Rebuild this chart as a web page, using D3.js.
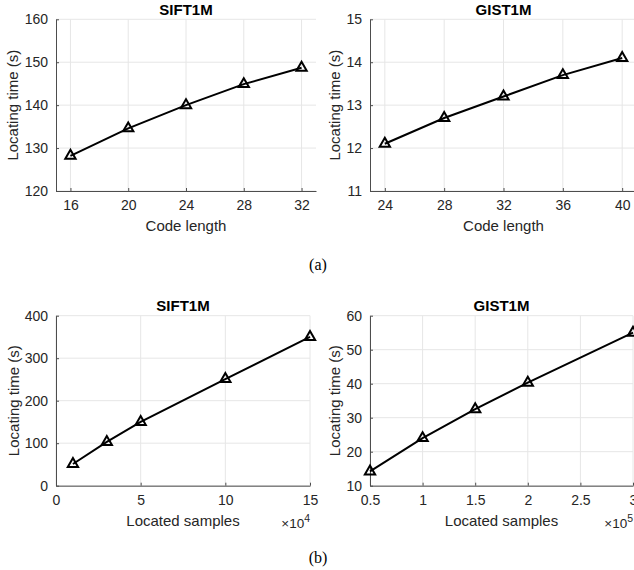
<!DOCTYPE html>
<html><head><meta charset="utf-8">
<script src="https://cdn.jsdelivr.net/npm/d3@7"></script>
<style>
body{margin:0;background:#fff;}
svg{display:block;}
text{font-family:"Liberation Sans",Arial,Helvetica,sans-serif;}
</style></head>
<body>
<svg id="c" width="634" height="570"></svg>
<script>
// ---- Data ----
const siftCodeLen = [16, 20, 24, 28, 32];
const siftCodeTime = [128.2, 134.6, 140.0, 144.9, 148.7];
const gistCodeLen = [24, 28, 32, 36, 40];
const gistCodeTime = [12.1, 12.7, 13.2, 13.7, 14.1];
const siftSamples = [1, 3, 5, 10, 15];      // x 10^4
const siftSampleTime = [51, 103, 150, 251, 350];
const gistSamples = [0.5, 1, 1.5, 2, 3];    // x 10^5
const gistSampleTime = [14.2, 24.0, 32.5, 40.3, 55.0];

const titles = ["SIFT1M", "GIST1M"];
const xTicksA1 = [16, 20, 24, 28, 32];
const xTicksA2 = [24, 28, 32, 36, 40];
const yTicksA1 = [120, 130, 140, 150, 160];
const yTicksA2 = [11, 12, 13, 14, 15];
const xTicksB1 = [0, 5, 10, 15];
const xTicksB2 = [0.5, 1, 1.5, 2, 2.5, 3];
const yTicksB1 = [0, 100, 200, 300, 400];
const yTicksB2 = [10, 20, 30, 40, 50, 60];

const svg = d3.select("#c");
const axisCol = "#4d4d4d", textCol = "#262626", gridCol = "#e6e6e6";

function panel(o) {
  const x = d3.scaleLinear().domain(o.xd).range([o.x0, o.x1]);
  const y = d3.scaleLinear().domain(o.yd).range([o.y1, o.y0]);
  const g = svg.append("g");
  // grid
  g.selectAll(".gx").data(o.xt).join("line")
    .attr("x1", d => x(d)).attr("x2", d => x(d))
    .attr("y1", o.y0).attr("y2", o.y1).attr("stroke", gridCol).attr("stroke-width", 1);
  g.selectAll(".gy").data(o.yt).join("line")
    .attr("x1", o.x0).attr("x2", o.x1)
    .attr("y1", d => y(d)).attr("y2", d => y(d)).attr("stroke", gridCol).attr("stroke-width", 1);
  // axes
  const xa = d3.axisBottom(x).tickValues(o.xt).tickSizeInner(-3).tickSizeOuter(0).tickPadding(9)
    .tickFormat(d => String(d));
  const ya = d3.axisLeft(y).tickValues(o.yt).tickSizeInner(-3).tickSizeOuter(0).tickPadding(8)
    .tickFormat(d => String(d));
  const gx = g.append("g").attr("transform", `translate(0,${o.y1})`).call(xa);
  const gy = g.append("g").attr("transform", `translate(${o.x0},0)`).call(ya);
  [gx, gy].forEach(a => {
    a.select(".domain").attr("stroke", axisCol).attr("stroke-width", 1);
    a.selectAll(".tick line").attr("stroke", axisCol);
    a.selectAll(".tick text").attr("fill", textCol).style("font-size", "14px")
      .style("font-family", '"Liberation Sans",Arial,sans-serif');
  });
  // line
  const pts = o.xs.map((v, i) => [v, o.ys[i]]);
  g.append("path").datum(pts)
    .attr("d", d3.line().x(d => x(d[0])).y(d => y(d[1])))
    .attr("fill", "none").attr("stroke", "#000").attr("stroke-width", 2);
  const tri = d3.symbol().type(d3.symbolTriangle).size(46);
  g.selectAll(".m").data(pts).join("path")
    .attr("transform", d => `translate(${x(d[0])},${y(d[1])})`)
    .attr("d", tri).attr("fill", "none").attr("stroke", "#000").attr("stroke-width", 2);
  // title
  const cx = (o.x0 + o.x1) / 2;
  g.append("text").attr("x", cx).attr("y", o.y0 - 4.5).attr("text-anchor", "middle")
    .attr("fill", "#000").style("font-size", "15px").style("font-weight", "bold").text(o.title);
  // xlabel
  g.append("text").attr("x", cx).attr("y", o.y1 + 40).attr("text-anchor", "middle")
    .attr("fill", textCol).style("font-size", "15px").text(o.xlabel);
  // ylabel
  g.append("text").attr("transform", `translate(${o.ylx},${(o.y0 + o.y1) / 2}) rotate(-90)`)
    .attr("text-anchor", "middle").attr("fill", textCol).style("font-size", "15px")
    .text("Locating time (s)");
  if (o.exp) {
    const t = g.append("text").attr("x", o.x1).attr("y", o.y1 + 42).attr("text-anchor", "end")
      .attr("fill", textCol).style("font-size", "13.5px");
    t.append("tspan").text("×10");
    t.append("tspan").attr("dy", -6).style("font-size", "10.5px").text(o.exp);
  }
}

panel({x0: 56, x1: 316, y0: 19.3, y1: 191, xd: [15, 33], yd: [120, 160],
  xt: xTicksA1, yt: yTicksA1, xs: siftCodeLen, ys: siftCodeTime,
  title: titles[0], xlabel: "Code length", ylx: 18});
panel({x0: 370, x1: 637, y0: 19.3, y1: 191, xd: [23, 41], yd: [11, 15],
  xt: xTicksA2, yt: yTicksA2, xs: gistCodeLen, ys: gistCodeTime,
  title: titles[1], xlabel: "Code length", ylx: 340});
panel({x0: 56, x1: 310, y0: 315.7, y1: 485.7, xd: [0, 15], yd: [0, 400],
  xt: xTicksB1, yt: yTicksB1, xs: siftSamples, ys: siftSampleTime,
  title: titles[0], xlabel: "Located samples", ylx: 19, exp: "4"});
panel({x0: 370, x1: 633, y0: 315.7, y1: 485.7, xd: [0.5, 3], yd: [10, 60],
  xt: xTicksB2, yt: yTicksB2, xs: gistSamples, ys: gistSampleTime,
  title: titles[1], xlabel: "Located samples", ylx: 340, exp: "5"});

svg.append("text").attr("x", 318).attr("y", 270).attr("text-anchor", "middle")
  .style("font-family", '"Liberation Serif","Times New Roman",serif').style("font-size", "16px").text("(a)");
svg.append("text").attr("x", 318).attr("y", 563).attr("text-anchor", "middle")
  .style("font-family", '"Liberation Serif","Times New Roman",serif').style("font-size", "16px").text("(b)");
</script>
</body></html>
